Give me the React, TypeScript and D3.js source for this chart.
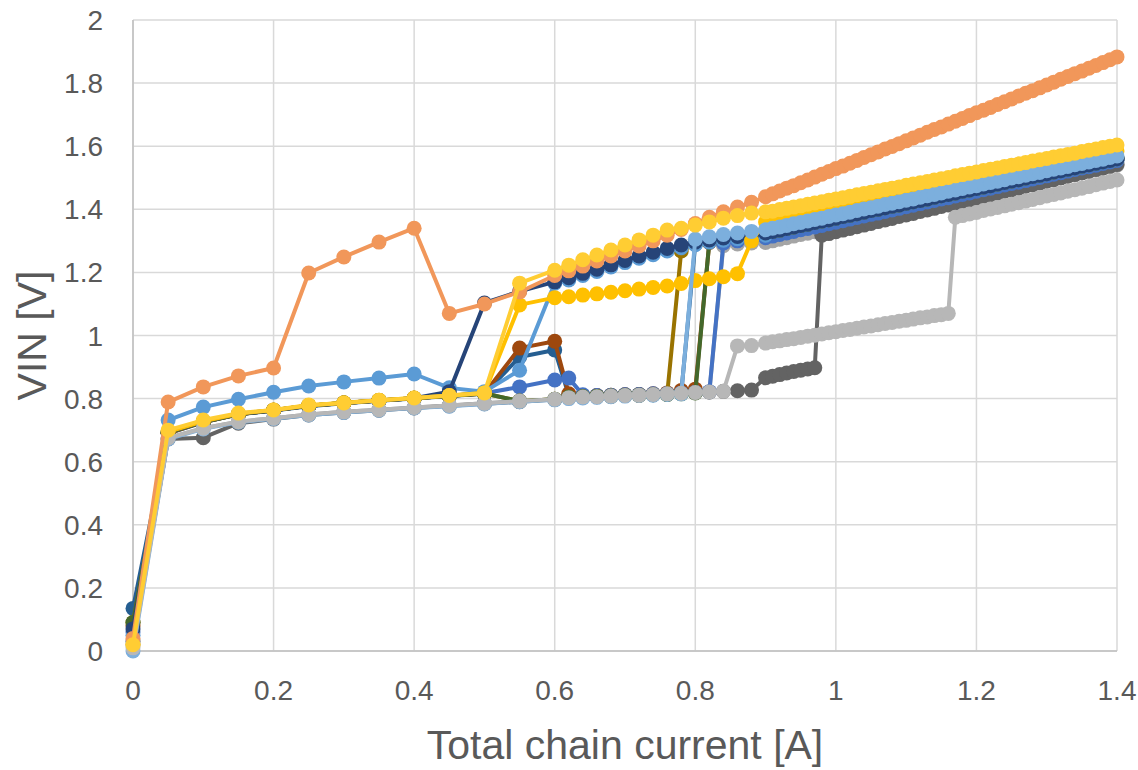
import React from 'react';
import * as d3 from 'd3';

// chain current [A]: coarse steps, then 0.02, then 0.01
const xHead = [0, 0.05, 0.1, 0.15, 0.2, 0.25, 0.3, 0.35, 0.4, 0.45, 0.5, 0.55, 0.6];
const xMid = [0.62, 0.64, 0.66, 0.68, 0.7, 0.72, 0.74, 0.76, 0.78, 0.8, 0.82, 0.84, 0.86, 0.88, 0.9];
const xTail = [
  0.91, 0.92, 0.93, 0.94, 0.95, 0.96, 0.97, 0.98, 0.99, 1.0,
  1.01, 1.02, 1.03, 1.04, 1.05, 1.06, 1.07, 1.08, 1.09, 1.1,
  1.11, 1.12, 1.13, 1.14, 1.15, 1.16, 1.17, 1.18, 1.19, 1.2,
  1.21, 1.22, 1.23, 1.24, 1.25, 1.26, 1.27, 1.28, 1.29, 1.3,
  1.31, 1.32, 1.33, 1.34, 1.35, 1.36, 1.37, 1.38, 1.39, 1.4,
];
const current = [...xHead, ...xMid, ...xTail];

// VIN [V] for the dense part (0.91 .. 1.4)
const orangeTail = [
  1.449, 1.458, 1.467, 1.475, 1.484, 1.493, 1.502, 1.511, 1.52, 1.529,
  1.537, 1.546, 1.555, 1.564, 1.573, 1.582, 1.591, 1.599, 1.608, 1.617,
  1.626, 1.635, 1.644, 1.653, 1.661, 1.67, 1.679, 1.688, 1.697, 1.706,
  1.714, 1.723, 1.732, 1.741, 1.75, 1.759, 1.768, 1.776, 1.785, 1.794,
  1.803, 1.812, 1.821, 1.83, 1.838, 1.847, 1.856, 1.865, 1.874, 1.883,
];
const yellowTail = [
  1.394, 1.399, 1.403, 1.407, 1.411, 1.416, 1.42, 1.424, 1.429, 1.433,
  1.437, 1.441, 1.446, 1.45, 1.454, 1.459, 1.463, 1.467, 1.471, 1.476,
  1.48, 1.484, 1.488, 1.493, 1.497, 1.501, 1.506, 1.51, 1.514, 1.518,
  1.523, 1.527, 1.531, 1.536, 1.54, 1.544, 1.548, 1.553, 1.557, 1.561,
  1.566, 1.57, 1.574, 1.578, 1.583, 1.587, 1.591, 1.596, 1.6, 1.604,
];
const goldTail = [
  1.365, 1.369, 1.374, 1.378, 1.383, 1.387, 1.392, 1.396, 1.401, 1.405,
  1.41, 1.414, 1.419, 1.423, 1.428, 1.432, 1.437, 1.441, 1.446, 1.45,
  1.455, 1.459, 1.464, 1.468, 1.473, 1.477, 1.482, 1.486, 1.491, 1.495,
  1.5, 1.504, 1.509, 1.513, 1.518, 1.522, 1.527, 1.531, 1.536, 1.54,
  1.545, 1.549, 1.554, 1.558, 1.563, 1.567, 1.572, 1.576, 1.581, 1.585,
];
const lightBlueTail = [
  1.34, 1.344, 1.349, 1.354, 1.358, 1.363, 1.368, 1.372, 1.377, 1.382,
  1.386, 1.391, 1.396, 1.401, 1.405, 1.41, 1.415, 1.419, 1.424, 1.429,
  1.433, 1.438, 1.443, 1.447, 1.452, 1.457, 1.461, 1.466, 1.471, 1.475,
  1.48, 1.485, 1.489, 1.494, 1.499, 1.503, 1.508, 1.513, 1.517, 1.522,
  1.527, 1.531, 1.536, 1.541, 1.545, 1.55, 1.555, 1.559, 1.564, 1.569,
];
const navyTail = [
  1.33, 1.334, 1.339, 1.344, 1.349, 1.353, 1.358, 1.363, 1.367, 1.372,
  1.377, 1.381, 1.386, 1.391, 1.396, 1.4, 1.405, 1.41, 1.414, 1.419,
  1.424, 1.428, 1.433, 1.438, 1.443, 1.447, 1.452, 1.457, 1.461, 1.466,
  1.471, 1.475, 1.48, 1.485, 1.49, 1.494, 1.499, 1.504, 1.508, 1.513,
  1.518, 1.522, 1.527, 1.532, 1.537, 1.541, 1.546, 1.551, 1.555, 1.56,
];
const blueTail = [
  1.315, 1.32, 1.325, 1.33, 1.335, 1.339, 1.344, 1.349, 1.354, 1.359,
  1.364, 1.369, 1.374, 1.379, 1.384, 1.388, 1.393, 1.398, 1.403, 1.408,
  1.413, 1.418, 1.423, 1.428, 1.433, 1.437, 1.442, 1.447, 1.452, 1.457,
  1.462, 1.467, 1.472, 1.477, 1.482, 1.486, 1.491, 1.496, 1.501, 1.506,
  1.511, 1.516, 1.521, 1.526, 1.531, 1.535, 1.54, 1.545, 1.55, 1.555,
];
const grayTail = [
  1.3, 1.305, 1.31, 1.315, 1.32, 1.324, 1.329, 1.334, 1.339, 1.344,
  1.349, 1.354, 1.359, 1.364, 1.369, 1.373, 1.378, 1.383, 1.388, 1.393,
  1.398, 1.403, 1.408, 1.413, 1.418, 1.422, 1.427, 1.432, 1.437, 1.442,
  1.447, 1.452, 1.457, 1.462, 1.467, 1.471, 1.476, 1.481, 1.486, 1.491,
  1.496, 1.501, 1.506, 1.511, 1.516, 1.52, 1.525, 1.53, 1.535, 1.54,
];
const darkGrayTail = [
  0.871, 0.876, 0.881, 0.886, 0.89, 0.894, 0.898, 1.318, 1.323, 1.329,
  1.334, 1.339, 1.345, 1.35, 1.355, 1.361, 1.366, 1.371, 1.377, 1.382,
  1.387, 1.393, 1.398, 1.403, 1.409, 1.414, 1.419, 1.425, 1.43, 1.435,
  1.441, 1.446, 1.451, 1.457, 1.462, 1.467, 1.473, 1.478, 1.483, 1.489,
  1.494, 1.499, 1.505, 1.51, 1.515, 1.521, 1.526, 1.531, 1.537, 1.542,
];
const lightGrayTail = [
  0.98, 0.983, 0.987, 0.99, 0.994, 0.998, 1.001, 1.005, 1.009, 1.012,
  1.016, 1.019, 1.023, 1.027, 1.03, 1.034, 1.038, 1.041, 1.045, 1.048,
  1.052, 1.056, 1.059, 1.063, 1.066, 1.07, 1.375, 1.38, 1.385, 1.39,
  1.396, 1.401, 1.406, 1.411, 1.416, 1.421, 1.426, 1.431, 1.437, 1.442,
  1.447, 1.452, 1.457, 1.462, 1.467, 1.472, 1.478, 1.483, 1.488, 1.493,
];

// drawing order: first is at the bottom
const series = [
  {
    color: '#A5A5A5',
    values: [
      0.02, 0.675, 0.706, 0.727, 0.738, 0.75, 0.758, 0.765, 0.772, 0.778, 0.785, 0.792, 0.798,
      0.803, 0.805, 0.806, 0.808, 0.81, 0.811, 0.813, 0.815, 0.817, 0.819, 0.821, 1.285, 1.29, 1.293, 1.295,
      ...grayTail,
    ],
  },
  {
    color: '#636363',
    values: [
      0.03, 0.672, 0.676, 0.722, 0.735, 0.748, 0.756, 0.763, 0.77, 0.777, 0.784, 0.79, 0.797,
      0.803, 0.805, 0.806, 0.808, 0.81, 0.811, 0.813, 0.815, 0.817, 0.819, 0.821, 0.823, 0.825, 0.827, 0.866,
      ...darkGrayTail,
    ],
  },
  {
    color: '#255E91',
    values: [
      0.135, 0.69, 0.725, 0.75, 0.762, 0.776, 0.785, 0.793, 0.8, 0.808, 0.815, 0.932, 0.954,
      0.81, 0.808, 0.809, 0.81, 0.812, 0.813, 0.814, 0.815, 0.817, 1.29, 1.298, 1.305, 1.31, 1.315, 1.32,
      ...navyTail,
    ],
  },
  {
    color: '#9E480E',
    values: [
      0.08, 0.69, 0.726, 0.75, 0.763, 0.777, 0.786, 0.794, 0.801, 0.809, 0.816, 0.96, 0.982,
      0.815, 0.81, 0.81, 0.811, 0.812, 0.813, 0.815, 0.818, 0.826, 0.83, 1.295, 1.303, 1.308, 1.313, 1.318,
      ...navyTail,
    ],
  },
  {
    color: '#4472C4',
    values: [
      0.06, 0.693, 0.727, 0.751, 0.763, 0.777, 0.786, 0.794, 0.801, 0.809, 0.817, 0.837, 0.859,
      0.865, 0.812, 0.81, 0.811, 0.812, 0.813, 0.815, 0.816, 0.818, 0.82, 0.822, 1.293, 1.3, 1.305, 1.31,
      ...blueTail,
    ],
  },
  {
    color: '#997300',
    values: [
      0.09, 0.692, 0.726, 0.75, 0.763, 0.777, 0.786, 0.794, 0.801, 0.809, 0.816, 0.792, 0.798,
      0.805, 0.806, 0.807, 0.808, 0.81, 0.811, 0.812, 0.813, 1.268, 1.29, 1.3, 1.308, 1.313, 1.318, 1.322,
      ...navyTail,
    ],
  },
  {
    color: '#43682B',
    values: [
      0.09, 0.692, 0.726, 0.75, 0.763, 0.777, 0.786, 0.794, 0.801, 0.809, 0.816, 0.792, 0.798,
      0.805, 0.806, 0.807, 0.808, 0.81, 0.811, 0.812, 0.813, 0.815, 0.818, 1.297, 1.305, 1.31, 1.315, 1.32,
      ...navyTail,
    ],
  },
  {
    color: '#5B9BD5',
    values: [
      0.05, 0.732, 0.773, 0.798, 0.82, 0.84, 0.853, 0.865, 0.878, 0.834, 0.822, 0.89, 1.166,
      1.176, 1.19, 1.203, 1.217, 1.231, 1.245, 1.256, 1.268, 1.278, 1.288, 1.296, 1.302, 1.307, 1.312, 1.318,
      ...navyTail,
    ],
  },
  {
    color: '#264478',
    values: [
      0.07, 0.694, 0.727, 0.751, 0.763, 0.777, 0.786, 0.794, 0.801, 0.822, 1.103, 1.14, 1.17,
      1.183, 1.197, 1.21, 1.224, 1.238, 1.252, 1.264, 1.276, 1.287, 1.296, 1.303, 1.309, 1.314, 1.319, 1.325,
      ...navyTail,
    ],
  },
  {
    color: '#FFC000',
    values: [
      0.02, 0.695, 0.728, 0.752, 0.764, 0.778, 0.787, 0.795, 0.802, 0.81, 0.818, 1.097, 1.12,
      1.123, 1.128, 1.132, 1.137, 1.142, 1.147, 1.152, 1.157, 1.165, 1.174, 1.18, 1.186, 1.196, 1.3, 1.36,
      ...goldTail,
    ],
  },
  {
    color: '#7CAFDD',
    values: [
      0.0, 0.672, 0.704, 0.725, 0.736, 0.748, 0.756, 0.763, 0.77, 0.776, 0.783, 0.79, 0.796,
      0.8, 0.802, 0.804, 0.806, 0.808, 0.81, 0.811, 0.813, 0.815, 1.305, 1.313, 1.32, 1.325, 1.33, 1.335,
      ...lightBlueTail,
    ],
  },
  {
    color: '#B7B7B7',
    values: [
      0.01, 0.675, 0.706, 0.727, 0.738, 0.75, 0.758, 0.765, 0.772, 0.778, 0.785, 0.792, 0.798,
      0.803, 0.805, 0.806, 0.808, 0.81, 0.811, 0.813, 0.815, 0.817, 0.819, 0.821, 0.823, 0.967, 0.968, 0.976,
      ...lightGrayTail,
    ],
  },
  {
    color: '#F1975A',
    values: [
      0.04, 0.789, 0.837, 0.872, 0.897, 1.198, 1.249, 1.296, 1.34, 1.07, 1.1, 1.138, 1.19,
      1.205, 1.22, 1.236, 1.252, 1.268, 1.284, 1.3, 1.318, 1.336, 1.355, 1.375, 1.392, 1.407, 1.422, 1.44,
      ...orangeTail,
    ],
  },
  {
    color: '#FFCD33',
    values: [
      0.02, 0.7, 0.732, 0.754, 0.764, 0.78, 0.786, 0.795, 0.802, 0.81, 0.818, 1.166, 1.207,
      1.223, 1.24, 1.255, 1.271, 1.287, 1.303, 1.318, 1.334, 1.34, 1.35, 1.36, 1.372, 1.38, 1.388, 1.392,
      ...yellowTail,
    ],
  },
];

const xTicks = [0, 0.2, 0.4, 0.6, 0.8, 1, 1.2, 1.4];
const yTicks = [0, 0.2, 0.4, 0.6, 0.8, 1, 1.2, 1.4, 1.6, 1.8, 2];

const W = 1138;
const H = 770;
const font = "'Liberation Sans', Arial, sans-serif";

export default function App() {
  const x = d3.scaleLinear().domain([0, 1.4]).range([133, 1117]);
  const y = d3.scaleLinear().domain([0, 2]).range([651, 20]);

  const line = d3
    .line<[number, number]>()
    .x((d) => x(d[0]))
    .y((d) => y(d[1]));

  return (
    <svg
      width={W}
      height={H}
      style={{ position: 'absolute', left: 0, top: 0, background: '#fff' }}
    >
      {/* grid */}
      {yTicks.map((t) => (
        <line key={'gy' + t} x1={x(0)} x2={x(1.4)} y1={y(t)} y2={y(t)} stroke="#D9D9D9" strokeWidth={1.5} />
      ))}
      {xTicks.map((t) => (
        <line key={'gx' + t} x1={x(t)} x2={x(t)} y1={y(0)} y2={y(2)} stroke="#D9D9D9" strokeWidth={1.5} />
      ))}
      <line x1={x(0)} x2={x(0)} y1={y(0)} y2={y(2)} stroke="#BFBFBF" strokeWidth={1.5} />
      <line x1={x(0)} x2={x(1.4)} y1={y(0)} y2={y(0)} stroke="#BFBFBF" strokeWidth={1.5} />

      {/* tick labels */}
      {yTicks.map((t) => (
        <text key={'ly' + t} x={103} y={y(t)} dy="0.36em" textAnchor="end" fontSize={28} fill="#595959" fontFamily={font}>
          {d3.format('~g')(t)}
        </text>
      ))}
      {xTicks.map((t) => (
        <text key={'lx' + t} x={x(t)} y={700} textAnchor="middle" fontSize={28} fill="#595959" fontFamily={font}>
          {d3.format('~g')(t)}
        </text>
      ))}

      {/* axis titles */}
      <text x={(x(0) + x(1.4)) / 2} y={759} textAnchor="middle" fontSize={41} fill="#595959" fontFamily={font}>
        Total chain current [A]
      </text>
      <text
        transform={`translate(46, ${(y(0) + y(2)) / 2}) rotate(-90)`}
        textAnchor="middle"
        fontSize={41}
        fill="#595959"
        fontFamily={font}
      >
        VIN [V]
      </text>

      {/* series */}
      {series.map((s, i) => {
        const pts = current.map((c, j) => [c, s.values[j]] as [number, number]);
        return (
          <g key={i}>
            <path d={line(pts) || ''} fill="none" stroke={s.color} strokeWidth={4} strokeLinejoin="round" />
            {pts.map((p, j) => (
              <circle key={j} cx={x(p[0])} cy={y(p[1])} r={7.5} fill={s.color} />
            ))}
          </g>
        );
      })}
    </svg>
  );
}
